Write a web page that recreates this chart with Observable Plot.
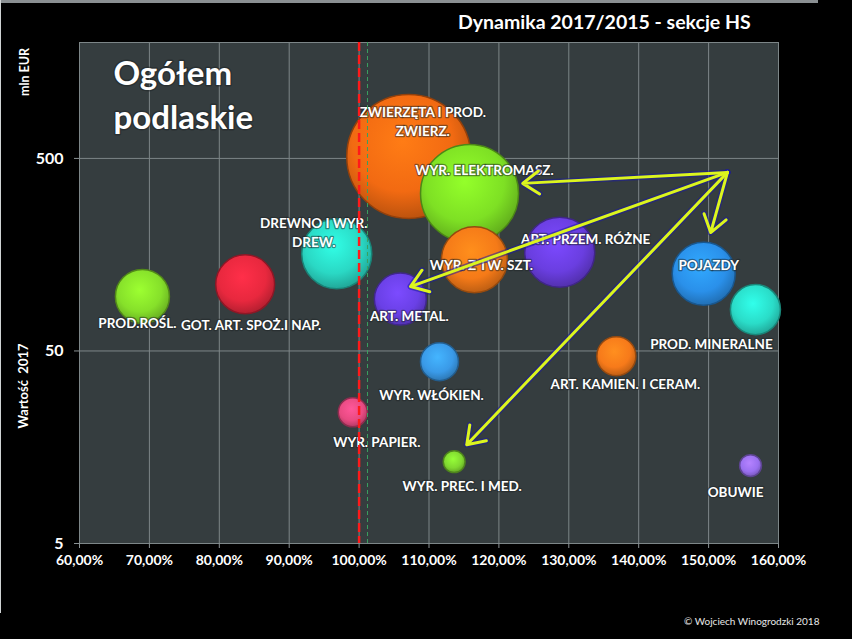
<!DOCTYPE html>
<html>
<head>
<meta charset="utf-8">
<script src="https://cdn.jsdelivr.net/npm/d3@7"></script>
<script src="https://cdn.jsdelivr.net/npm/@observablehq/plot@0.6"></script>
<style>
  html, body { margin: 0; padding: 0; background: #000; }
  #wrap { position: relative; width: 852px; height: 639px; overflow: hidden; background: #000; font-family: Lato, "Open Sans", sans-serif; color: #fff; font-weight: bold; }
  #wrap svg { position: absolute; left: 0; top: 0; }
  #wrap svg text { font-weight: bold; }
  .abs { position: absolute; white-space: nowrap; }
</style>
</head>
<body>
<div id="wrap">
  <div class="abs" style="left:0;top:0;width:818px;height:3px;background:#8a8f92;"></div>
  <div class="abs" style="left:0;top:0;width:1px;height:613px;background:#cfd3d4;"></div>
  <div class="abs" id="title" style="left:458px;top:10px;font-size:19.5px;">Dynamika 2017/2015 - sekcje HS</div>
  <div class="abs" style="left:24px;top:72px;font-size:12.5px;transform:translate(-50%,-50%) rotate(-90deg);">mln EUR</div>
  <div class="abs" style="left:23px;top:386px;font-size:13px;transform:translate(-50%,-50%) rotate(-90deg);">Wartość&nbsp; 2017</div>
  <div class="abs" style="left:684px;top:615px;font-size:10px;font-weight:normal;color:#e8e8e8;">© Wojciech Winogrodzki 2018</div>
</div>
<script>
// ---- data ----
const categories = [
  "PROD.ROŚL.", "GOT. ART. SPOŻ.I NAP.", "DREWNO I WYR.\nDREW.", "ZWIERZĘTA I PROD.\nZWIERZ.",
  "WYR. ELEKTROMASZ.", "WYR. Z TW. SZT.", "ART. METAL.", "ART. PRZEM. RÓŻNE", "POJAZDY",
  "PROD. MINERALNE", "ART. KAMIEN. I CERAM.", "WYR. WŁÓKIEN.", "WYR. PAPIER.",
  "WYR. PREC. I MED.", "OBUWIE"
];
const dynamika = [69.0, 83.7, 96.8, 107.1, 115.8, 116.5, 105.9, 128.7, 149.3, 156.7, 136.8, 111.5, 99.1, 113.6, 156.0];
const wartosc2017 = [96, 111, 160, 512, 329, 149, 93, 163, 126, 82, 47, 44, 24, 13.3, 12.7];
const wielkosc = [19.0, 22.6, 31.9, 100, 62.5, 28.3, 17.6, 31.9, 25.8, 16.3, 9.9, 9.4, 5.5, 3.1, 3.1];
const xTicks = [60, 70, 80, 90, 100, 110, 120, 130, 140, 150, 160];
const yTicks = [5, 50, 500];
// arrow annotation (data units): common origin and tips
const arrowFrom = {dyn: 152.7, val: 423};
const arrowTips = [
  {dyn: 123.4, val: 371},
  {dyn: 107.35, val: 108},
  {dyn: 115.4, val: 16.3},
  {dyn: 150.3, val: 206}
];

// ---- styles ----
const palette = ["#86e02a", "#e8283e", "#2ad8c4", "#f26a12", "#7ee024", "#f57a18", "#6a40e6", "#6a3ee0",
  "#2a90ea", "#2adcc8", "#f77a1a", "#3a9ae8", "#e84a82", "#80d830", "#9a70f0"];
const labelOffsets = [[-5, 26], [6, 40], [-23, -22], [14, -36], [15, -24], [7, 4], [9, 16], [26, -14],
  [5, -10], [-44, 33], [9, 27], [-8, 32], [24, 29], [8, 23], [-15, 25]];

const bubbles = categories.map((name, i) => ({
  name, dyn: dynamika[i], val: wartosc2017[i], w: wielkosc[i],
  fill: `url(#bub${i})`, stroke: d3.color(palette[i]).darker(1.4).formatHex()
}));
const drawOrder = d3.sort(bubbles, d => -d.w);
const arrows = arrowTips.map(t => ({x1: arrowFrom.dyn, y1: arrowFrom.val, x2: t.dyn, y2: t.val}));

const pct = d => d.toFixed(2).replace(".", ",") + "%";

const plot = Plot.plot({
  width: 852,
  height: 639,
  marginLeft: 79,
  marginRight: 74,
  marginTop: 42,
  marginBottom: 96,
  style: {background: "transparent", color: "white", fontFamily: "Lato, sans-serif", fontWeight: "bold"},
  x: {domain: [60, 160]},
  y: {type: "log", domain: [5, 2000]},
  r: {domain: [0, 100], range: [0, 62]},
  marks: [
    Plot.frame({fill: "#353d3f"}),
    Plot.gridX(xTicks, {stroke: "#7d8688", strokeOpacity: 1}),
    Plot.gridY(yTicks, {stroke: "#7d8688", strokeOpacity: 1}),
    Plot.frame({stroke: "#7d8688"}),
    Plot.axisX(xTicks, {tickFormat: pct, fontSize: 14, fontWeight: "bold", tickSize: 5, tickPadding: 7, stroke: "#8a9294", fill: "white", label: null}),
    Plot.axisY(yTicks, {tickFormat: d => String(d), fontSize: 16, fontWeight: "bold", tickSize: 5, tickPadding: 11, stroke: "#8a9294", fill: "white", label: null}),
    Plot.dot(drawOrder, {x: "dyn", y: "val", r: "w", fill: "fill", stroke: "stroke", strokeWidth: 1.5}),
    ...bubbles.map((d, i) => Plot.text([d], {
      x: "dyn", y: "val", text: "name", dx: labelOffsets[i][0], dy: labelOffsets[i][1],
      fill: "white", stroke: "#1e2426", strokeWidth: 2.5, strokeOpacity: 0.5,
      fontSize: 13.5, fontWeight: "bold", lineHeight: 1.4, lineAnchor: "middle", textAnchor: "middle"
    })),
    Plot.text(["Ogółem\npodlaskie"], {frameAnchor: "top-left", dx: 34, dy: 12, fill: "white",
      stroke: "#1e2426", strokeWidth: 3, strokeOpacity: 0.5, fontWeight: "bold",
      fontSize: 33, lineHeight: 1.32, lineAnchor: "top", textAnchor: "start"}),
    Plot.ruleX([101.2], {stroke: "#3aa060", strokeWidth: 1, strokeDasharray: "4,3"}),
    Plot.ruleX([100], {stroke: "#ff1a1a", strokeWidth: 2.5, strokeDasharray: "9,4"}),
    Plot.arrow(arrows, {x1: "x1", y1: "y1", x2: "x2", y2: "y2", stroke: "#1c1ca0", strokeOpacity: 0.55, strokeWidth: 6, headLength: 5, headAngle: 70}),
    Plot.arrow(arrows, {x1: "x1", y1: "y1", x2: "x2", y2: "y2", stroke: "#dcf51e", strokeWidth: 3, headLength: 10, headAngle: 70})
  ]
});

// glossy radial gradients for bubbles
const defs = palette.map((c, i) => {
  const base = d3.color(c);
  return `<radialGradient id="bub${i}" cx="45%" cy="38%" r="62%">
    <stop offset="0%" stop-color="${base.brighter(0.45).formatHex()}"/>
    <stop offset="65%" stop-color="${base.formatHex()}"/>
    <stop offset="100%" stop-color="${base.darker(0.7).formatHex()}"/>
  </radialGradient>`;
}).join("");
plot.insertAdjacentHTML("afterbegin", `<defs>${defs}</defs>`);

document.getElementById("wrap").appendChild(plot);
</script>
</body>
</html>
